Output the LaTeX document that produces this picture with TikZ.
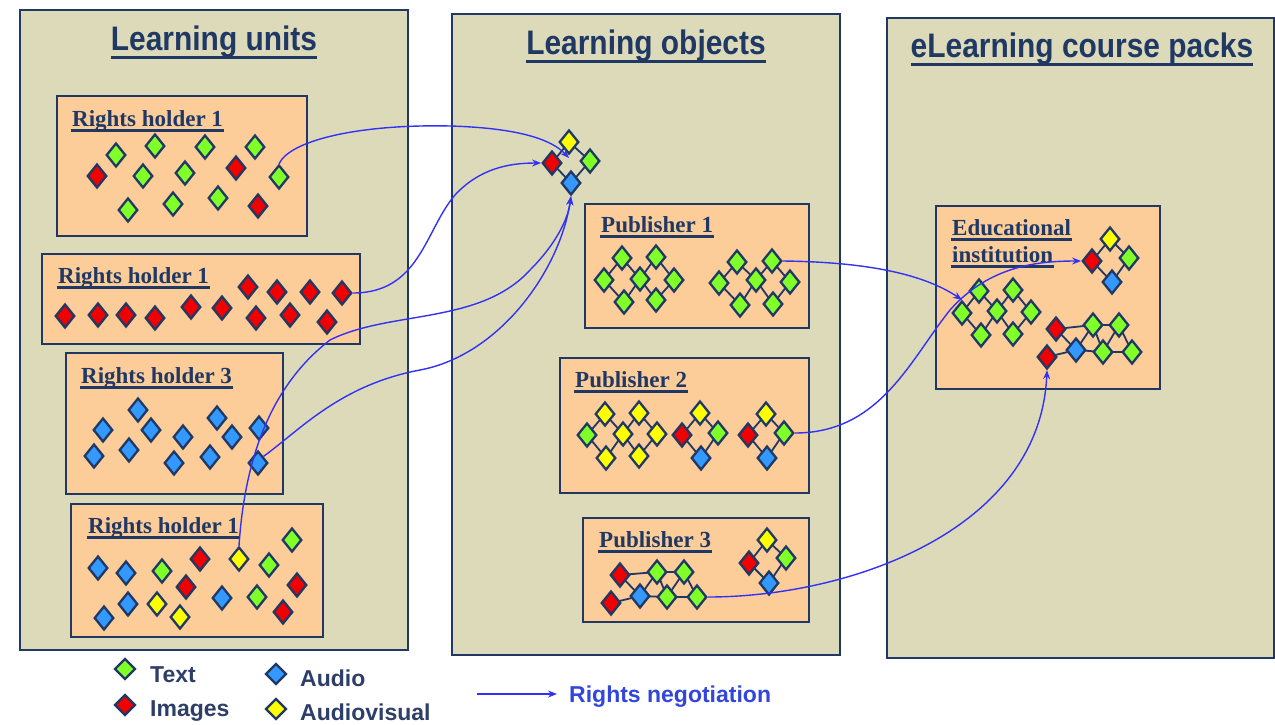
\documentclass[tikz,border=0pt]{standalone}
\usepackage{fontspec}
\setmainfont{Liberation Serif}
\setsansfont{Liberation Sans}
\usetikzlibrary{shapes.geometric,arrows.meta,calc}
\definecolor{panel}{RGB}{221,218,186}
\definecolor{peach}{RGB}{252,204,153}
\definecolor{navy}{RGB}{31,56,100}
\definecolor{cg}{RGB}{128,255,40}
\definecolor{cr}{RGB}{240,0,0}
\definecolor{cb}{RGB}{51,153,255}
\definecolor{cy}{RGB}{255,255,0}
\definecolor{arr}{RGB}{50,50,245}
\definecolor{leg}{RGB}{45,62,105}
\definecolor{rnblue}{RGB}{50,70,220}
\pgfdeclarelayer{back}
\pgfdeclarelayer{mid}
\pgfsetlayers{back,mid,main}
\newcommand\dia[3]{\node[dia,fill=#2] (#1) at (#3) {};}
\newcommand\lk[2]{\begin{pgfonlayer}{mid}\draw[lnk] (#1.center) -- (#2.center);\end{pgfonlayer}}
\newcommand\ulab[1]{\draw[ul] ($(#1.base west)+(-1,4.5)$) -- ($(#1.base east)+(1,4.5)$);}
\newcommand\narrowtitle[1]{\scalebox{0.88}[1]{#1}}
\tikzset{
  panelbox/.style={fill=panel, draw=navy, line width=1.6pt},
  peachbox/.style={fill=peach, draw=navy, line width=1.6pt},
  dia/.style={diamond, draw=navy, line width=2.3pt, minimum width=19.5pt, minimum height=24pt, inner sep=0pt},
  ldia/.style={diamond, draw=navy, line width=2.3pt, minimum width=21pt, minimum height=21pt, inner sep=0pt},
  lnk/.style={navy, line width=1.8pt},
  lab/.style={font=\fontsize{23}{28}\selectfont\bfseries, text=navy, inner sep=0pt, anchor=base west},
  tit/.style={font=\sffamily\bfseries\fontsize{34}{36}\selectfont, text=navy, inner sep=0pt, anchor=base},
  ul/.style={navy, line width=3pt},
  legt/.style={font=\sffamily\bfseries\fontsize{23}{26}\selectfont, text=leg, inner sep=0pt, anchor=base west},
  neg/.style={arr, line width=1.4pt, -{Stealth[length=9pt,width=7pt]}},
}
\begin{document}
\begin{tikzpicture}[x=1pt,y=-1pt]
\useasboundingbox (0,0) rectangle (1275,724);
\begin{pgfonlayer}{back}
\fill[white] (0,0) rectangle (1275,724);
\draw[panelbox] (20,10) rectangle (408,650);
\draw[panelbox] (452,14) rectangle (840,655);
\draw[panelbox] (887,18) rectangle (1274,658);
\draw[peachbox] (57,96) rectangle (307,236);
\draw[peachbox] (42,254) rectangle (360,344);
\draw[peachbox] (66,353) rectangle (283,494);
\draw[peachbox] (71,504) rectangle (323,637);
\draw[peachbox] (585,204) rectangle (809,328);
\draw[peachbox] (560,358) rectangle (809,493);
\draw[peachbox] (583,518) rectangle (809,622);
\draw[peachbox] (936,206) rectangle (1160,389);
\end{pgfonlayer}
% titles
\node[tit] (t1) at (214,50) {\narrowtitle{Learning units}};
\node[tit] (t2) at (646,54) {\narrowtitle{Learning objects}};
\node[tit] (t3) at (1082,57) {\narrowtitle{eLearning course packs}};
\draw[ul] ($(t1.base west)+(0,7)$) -- ($(t1.base east)+(0,7)$);
\draw[ul] ($(t2.base west)+(0,7)$) -- ($(t2.base east)+(0,7)$);
\draw[ul] ($(t3.base west)+(0,7)$) -- ($(t3.base east)+(0,7)$);
% labels
\node[lab] (l1) at (72,126) {Rights holder 1};
\node[lab] (l2) at (58,283) {Rights holder 1};
\node[lab] (l3) at (81,383) {Rights holder 3};
\node[lab] (l4) at (88,533) {Rights holder 1};
\node[lab] (p1) at (601,232) {Publisher 1};
\node[lab] (p2) at (575,387) {Publisher 2};
\node[lab] (p3) at (599,547) {Publisher 3};
\node[lab] (e1) at (952,235) {Educational};
\node[lab] (e2) at (952,262) {institution};
\ulab{l1}\ulab{l2}\ulab{l3}\ulab{l4}\ulab{p1}\ulab{p2}\ulab{p3}\ulab{e1}\ulab{e2}
% Rights holder 1 (top)
\dia{a1}{cg}{116,155}\dia{a2}{cg}{155,146}\dia{a3}{cg}{205,147}\dia{a4}{cg}{255,147}
\dia{a5}{cr}{97,176}\dia{a6}{cg}{143,176}\dia{a7}{cg}{185,173}\dia{a8}{cr}{236,168}
\dia{a9}{cg}{279,177}\dia{a10}{cg}{128,210}\dia{a11}{cg}{173,204}\dia{a12}{cg}{218,198}
\dia{a13}{cr}{258,206}
% Rights holder 1 (second)
\dia{b1}{cr}{65,316}\dia{b2}{cr}{98,315}\dia{b3}{cr}{126,315}\dia{b4}{cr}{155,318}
\dia{b5}{cr}{191,307}\dia{b6}{cr}{222,308}\dia{b7}{cr}{248,287}\dia{b8}{cr}{277,292}
\dia{b9}{cr}{310,292}\dia{b10}{cr}{342,293}\dia{b11}{cr}{256,318}\dia{b12}{cr}{290,315}
\dia{b13}{cr}{327,322}
% Rights holder 3
\dia{c1}{cb}{138,410}\dia{c2}{cb}{103,430}\dia{c3}{cb}{151,430}\dia{c4}{cb}{94,456}
\dia{c5}{cb}{129,450}\dia{c6}{cb}{183,437}\dia{c7}{cb}{174,463}\dia{c8}{cb}{217,418}
\dia{c9}{cb}{232,437}\dia{c10}{cb}{210,457}\dia{c11}{cb}{259,428}\dia{c12}{cb}{258,463}
% Rights holder 1 (bottom)
\dia{d1}{cb}{98,568}\dia{d2}{cb}{126,573}\dia{d3}{cg}{162,571}\dia{d4}{cr}{200,559}
\dia{d5}{cy}{239,559}\dia{d6}{cg}{269,565}\dia{d7}{cg}{292,540}\dia{d8}{cr}{186,587}
\dia{d9}{cb}{128,604}\dia{d10}{cb}{104,618}\dia{d11}{cy}{157,604}\dia{d12}{cy}{180,617}
\dia{d13}{cb}{222,598}\dia{d14}{cg}{257,597}\dia{d15}{cr}{297,585}\dia{d16}{cr}{283,612}
% cluster in learning objects
\dia{k1}{cy}{569,142}\dia{k2}{cr}{552,163}\dia{k3}{cg}{590,161}\dia{k4}{cb}{571,183}
\lk{k1}{k2}\lk{k1}{k3}\lk{k2}{k4}\lk{k3}{k4}
\coordinate (kc) at (569,158);
% Publisher 1
\dia{pa1}{cg}{622,258}\dia{pa2}{cg}{656,257}\dia{pa3}{cg}{604,280}\dia{pa4}{cg}{640,279}
\dia{pa5}{cg}{674,280}\dia{pa6}{cg}{624,302}\dia{pa7}{cg}{656,300}
\lk{pa1}{pa3}\lk{pa1}{pa4}\lk{pa3}{pa6}\lk{pa4}{pa6}\lk{pa2}{pa4}\lk{pa2}{pa5}\lk{pa4}{pa7}\lk{pa5}{pa7}
\dia{pb1}{cg}{737,262}\dia{pb2}{cg}{772,261}\dia{pb3}{cg}{719,283}\dia{pb4}{cg}{756,280}
\dia{pb5}{cg}{790,282}\dia{pb6}{cg}{740,305}\dia{pb7}{cg}{773,304}
\lk{pb1}{pb3}\lk{pb1}{pb4}\lk{pb3}{pb6}\lk{pb4}{pb6}\lk{pb2}{pb4}\lk{pb2}{pb5}\lk{pb4}{pb7}\lk{pb5}{pb7}
% Publisher 2
\dia{qa1}{cy}{605,414}\dia{qa2}{cy}{639,413}\dia{qa3}{cg}{587,435}\dia{qa4}{cy}{623,434}
\dia{qa5}{cy}{657,434}\dia{qa6}{cy}{606,458}\dia{qa7}{cy}{639,456}
\lk{qa1}{qa3}\lk{qa1}{qa4}\lk{qa3}{qa6}\lk{qa4}{qa6}\lk{qa2}{qa4}\lk{qa2}{qa5}\lk{qa4}{qa7}\lk{qa5}{qa7}
\dia{qb1}{cy}{700,413}\dia{qb2}{cr}{682,435}\dia{qb3}{cg}{718,433}\dia{qb4}{cb}{701,458}
\lk{qb1}{qb2}\lk{qb1}{qb3}\lk{qb2}{qb4}\lk{qb3}{qb4}
\dia{qc1}{cy}{766,414}\dia{qc2}{cr}{748,435}\dia{qc3}{cg}{784,433}\dia{qc4}{cb}{767,458}
\lk{qc1}{qc2}\lk{qc1}{qc3}\lk{qc2}{qc4}\lk{qc3}{qc4}
% Publisher 3
\dia{ra1}{cr}{620,575}\dia{ra2}{cg}{657,572}\dia{ra3}{cg}{684,572}\dia{ra4}{cr}{611,603}
\dia{ra5}{cb}{640,596}\dia{ra6}{cg}{667,597}\dia{ra7}{cg}{697,597}
\lk{ra1}{ra2}\lk{ra2}{ra3}\lk{ra4}{ra5}\lk{ra5}{ra6}\lk{ra6}{ra7}\lk{ra1}{ra5}\lk{ra2}{ra5}\lk{ra2}{ra6}\lk{ra3}{ra6}\lk{ra3}{ra7}
\dia{rb1}{cy}{767,540}\dia{rb2}{cr}{749,563}\dia{rb3}{cg}{786,558}\dia{rb4}{cb}{769,583}
\lk{rb1}{rb2}\lk{rb1}{rb3}\lk{rb2}{rb4}\lk{rb3}{rb4}
% Educational institution
\dia{sa1}{cy}{1110,239}\dia{sa2}{cr}{1092,261}\dia{sa3}{cg}{1129,258}\dia{sa4}{cb}{1112,282}
\lk{sa1}{sa2}\lk{sa1}{sa3}\lk{sa2}{sa4}\lk{sa3}{sa4}
\dia{sb1}{cg}{979,291}\dia{sb2}{cg}{1013,290}\dia{sb3}{cg}{962,313}\dia{sb4}{cg}{997,311}
\dia{sb5}{cg}{1031,312}\dia{sb6}{cg}{981,335}\dia{sb7}{cg}{1013,334}
\lk{sb1}{sb3}\lk{sb1}{sb4}\lk{sb3}{sb6}\lk{sb4}{sb6}\lk{sb2}{sb4}\lk{sb2}{sb5}\lk{sb4}{sb7}\lk{sb5}{sb7}
\dia{sc1}{cr}{1056,329}\dia{sc2}{cg}{1093,325}\dia{sc3}{cg}{1119,325}\dia{sc4}{cr}{1047,357}
\dia{sc5}{cb}{1076,350}\dia{sc6}{cg}{1103,352}\dia{sc7}{cg}{1132,352}
\lk{sc1}{sc2}\lk{sc2}{sc3}\lk{sc4}{sc5}\lk{sc5}{sc6}\lk{sc6}{sc7}\lk{sc1}{sc5}\lk{sc2}{sc5}\lk{sc2}{sc6}\lk{sc3}{sc6}\lk{sc3}{sc7}
% rights negotiation arrows: left side
\draw[neg] (a9.north) .. controls (290,140) and (360,124) .. (450,126) .. controls (520,128) and (552,140) .. (kc);
\draw[neg] (b10.east) .. controls (420,293) and (425,230) .. (455,195) .. controls (480,168) and (510,163) .. (k2.west);
\draw[neg] (d5.north) .. controls (244,470) and (265,390) .. (330,340) .. controls (390,310) and (480,325) .. (530,270) .. controls (555,245) and (568,220) .. (k4.south);
\draw[neg] (c12.north east) .. controls (300,430) and (340,385) .. (420,370) .. controls (500,355) and (560,270) .. (k4.south);
% right side
\draw[neg] (pb2.east) .. controls (870,262) and (925,275) .. (sb3.north);
\draw[neg] (qc3.east) .. controls (880,433) and (910,360) .. (950,310) .. controls (990,265) and (1040,261) .. (sa2.west);
\draw[neg] (ra7.east) .. controls (850,597) and (1040,530) .. (sc4.south);
% legend
\node[ldia,fill=cg] (lg1) at (125,669) {};
\node[ldia,fill=cr] (lg2) at (125,705) {};
\node[ldia,fill=cb] (lg3) at (276,674) {};
\node[ldia,fill=cy] (lg4) at (276,709) {};
\node[legt] (lt1) at (150,682) {Text};
\node[legt] (lt2) at (150,716) {Images};
\node[legt] (lt3) at (300,686) {Audio};
\node[legt] (lt4) at (300,720) {Audiovisual};
\coordinate (rn0) at (477,694);
\coordinate (rn1) at (557,694);
\draw[neg] (rn0) -- (rn1);
\node[legt,text=rnblue] (rnt) at (569,702) {Rights negotiation};
\end{tikzpicture}
\end{document}
